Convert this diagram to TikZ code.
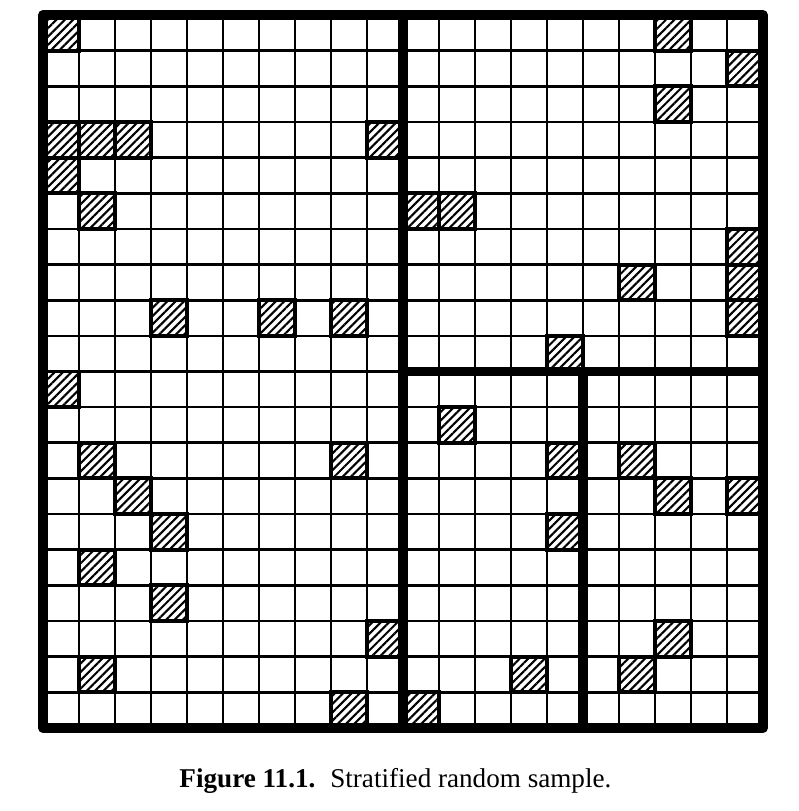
\documentclass[tikz,border=0pt]{standalone}
\usepackage{fontspec}
\setmainfont{Liberation Serif}
\usetikzlibrary{patterns.meta}

\begin{document}
\begin{tikzpicture}[x=0.9cm,y=0.89125cm]
      \tikzstyle{mince}=[line width=1.9pt]
      \tikzstyle{epais}=[line width=7pt,line join=round,line cap=round]
      \tikzstyle{tire}=[line width=2.8pt,pattern={Lines[angle=45,distance=4.2pt,line width=1.5pt]}]
      \useasboundingbox (-1.075cm,-2.075cm) rectangle (18.875cm,18.2cm);
      % quadrillage fin
      \foreach \i in {1,...,19} {
        \draw[mince] (\i,0)--(\i,20);
        \draw[mince] (0,\i)--(20,\i);
      }
      % cases tirees (colonne/ligne, ligne 0 en haut)
      \foreach \c/\r in {0/0,17/0,19/1,17/2,0/3,1/3,2/3,9/3,0/4,1/5,10/5,11/5,
                         19/6,16/7,19/7,3/8,6/8,8/8,19/8,14/9,0/10,11/11,
                         1/12,8/12,14/12,16/12,2/13,17/13,19/13,3/14,14/14,
                         1/15,3/16,9/17,17/17,1/18,13/18,16/18,8/19,10/19}
        \draw[tire] (\c,19-\r) rectangle ++(1,1);
      % strates
      \draw[epais] (0,0) rectangle (20,20);
      \draw[epais] (10,0)--(10,20);
      \draw[epais] (10,10)--(20,10);
      \draw[epais] (15,0)--(15,10);
      \node[anchor=base] (legende) at (9.79,-1.683)
        {\fontsize{19.3pt}{23pt}\selectfont\textbf{Figure 11.1.}\hspace{0.55em}Stratified random sample.};
    \end{tikzpicture}
\end{document}
